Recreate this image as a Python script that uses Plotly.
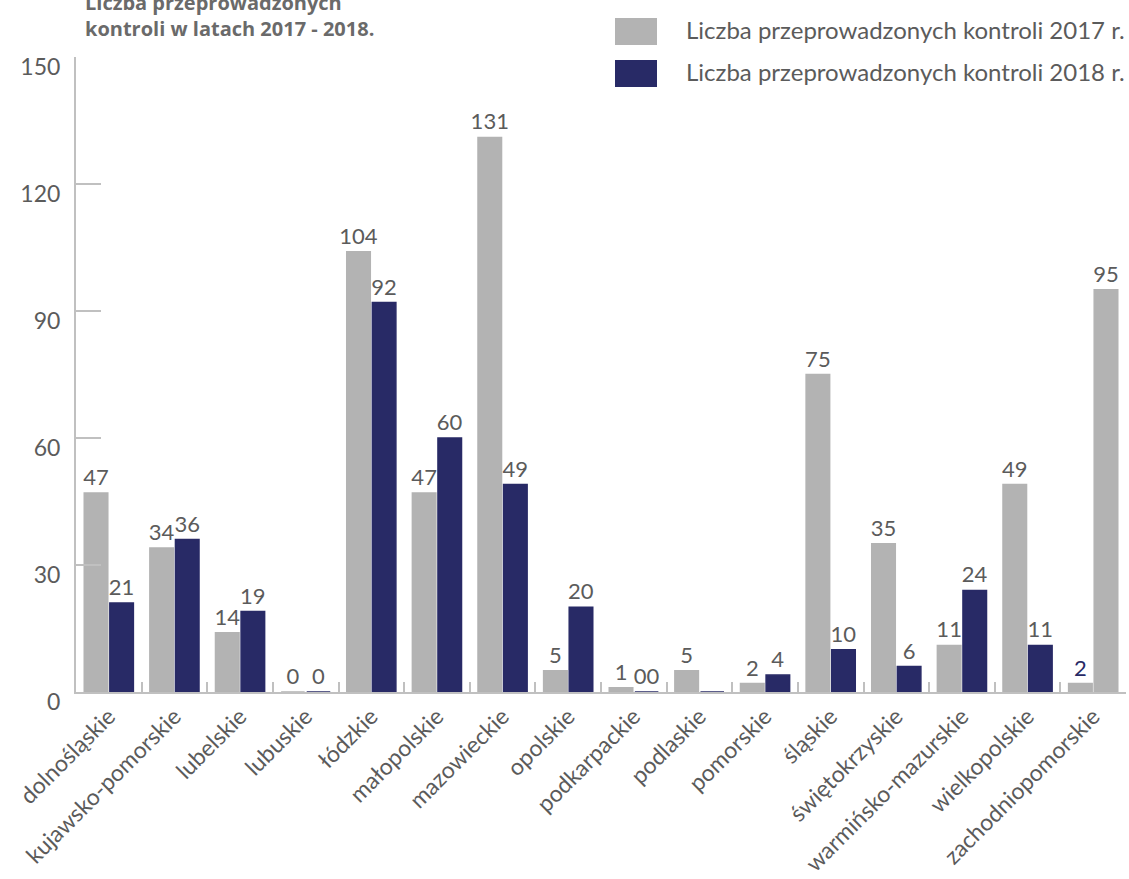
import plotly.graph_objects as go

# Regional inspection counts
regions = ["dolnośląskie", "kujawsko-pomorskie", "lubelskie", "lubuskie", "łódzkie",
           "małopolskie", "mazowieckie", "opolskie", "podkarpackie", "podlaskie",
           "pomorskie", "śląskie", "świętokrzyskie", "warmińsko-mazurskie",
           "wielkopolskie", "zachodniopomorskie"]
kontrole_2017 = [47, 34, 14, 0, 104, 47, 131, 5, 1, 5, 2, 75, 35, 11, 49, 2]
kontrole_2018 = [21, 36, 19, 0, 92, 60, 49, 20, 0, 0, 4, 10, 6, 24, 11, 95]

labels_2017 = [str(v) for v in kontrole_2017]
labels_2018 = [str(v) for v in kontrole_2018]
labels_2018[8] = "00"
labels_2018[9] = ""

series_names = ["Liczba przeprowadzonych kontroli 2017 r.",
                "Liczba przeprowadzonych kontroli 2018 r."]
y_ticks = [0, 30, 60, 90, 120, 150]

GREY = "#b3b3b3"
NAVY = "#282a66"
TEXT = "#5b5b5b"
AXIS = "#c0c0c0"
FONT = "Lato"

W, H = 1129, 879
L, R, T, B = 76, 3, 57, 187

colors_2017 = [GREY] * len(regions)
colors_2018 = [NAVY] * len(regions)
colors_2018[-1] = GREY
text_colors_2017 = [TEXT] * len(regions)
text_colors_2017[-1] = NAVY

fig = go.Figure()
fig.add_trace(go.Bar(
    x=regions, y=kontrole_2017, name=series_names[0],
    marker=dict(color=colors_2017, line=dict(color=colors_2017, width=1.5)),
    text=labels_2017, textposition="outside", constraintext="none", cliponaxis=False,
    textfont=dict(family=FONT, size=22, color=text_colors_2017),
))
fig.add_trace(go.Bar(
    x=regions, y=kontrole_2018, name=series_names[1],
    marker=dict(color=colors_2018, line=dict(color=colors_2018, width=1.5)),
    text=labels_2018, textposition="outside", constraintext="none", cliponaxis=False,
    textfont=dict(family=FONT, size=22, color=TEXT),
))

pw, ph = W - L - R, H - T - B


def px_x(px):
    return (px - L) / pw


def px_y(py):
    return (H - B - py) / ph


# Legend swatches and labels
shapes = []
annotations = []
for i, (name, col) in enumerate(zip(series_names, [GREY, NAVY])):
    top = 18 + i * 42
    shapes.append(dict(type="rect", xref="paper", yref="paper",
                       x0=px_x(615), x1=px_x(657), y0=px_y(top), y1=px_y(top + 27),
                       fillcolor=col, line=dict(width=0)))
    annotations.append(dict(xref="paper", yref="paper", x=px_x(684), y=px_y(top + 12),
                            xanchor="left", yanchor="middle", showarrow=False,
                            text=name, font=dict(family=FONT, size=24, color=TEXT)))

# Chart title
annotations.append(dict(xref="paper", yref="paper", x=px_x(83), y=px_y(44),
                        xanchor="left", yanchor="bottom", align="left", showarrow=False,
                        text="<b>Liczba przeprowadzonych<br>kontroli w latach 2017 - 2018.</b>",
                        font=dict(family="Open Sans", size=20, color="#6a6a6a")))

fig.update_layout(
    width=W, height=H,
    margin=dict(l=L, r=R, t=T, b=B),
    paper_bgcolor="white", plot_bgcolor="white",
    barmode="group", bargap=0.22, bargroupgap=0.08,
    showlegend=False,
    shapes=shapes, annotations=annotations,
    font=dict(family=FONT, color=TEXT),
)
fig.update_xaxes(
    type="category", showline=True, linecolor=AXIS, linewidth=2,
    ticks="inside", tickson="boundaries", ticklen=10, tickwidth=2, tickcolor=AXIS,
    tickangle=-45, tickfont=dict(family=FONT, size=23, color=TEXT),
    showgrid=False, zeroline=False,
)
fig.update_yaxes(
    range=[0, 150], tickvals=y_ticks, showline=True, linecolor=AXIS, linewidth=2,
    ticks="inside", ticklen=25, tickwidth=2, tickcolor=AXIS,
    ticklabelstandoff=9, ticklabelshift=10,
    tickfont=dict(family=FONT, size=23, color=TEXT),
    showgrid=False, zeroline=False,
)

fig.write_html("out.html")
